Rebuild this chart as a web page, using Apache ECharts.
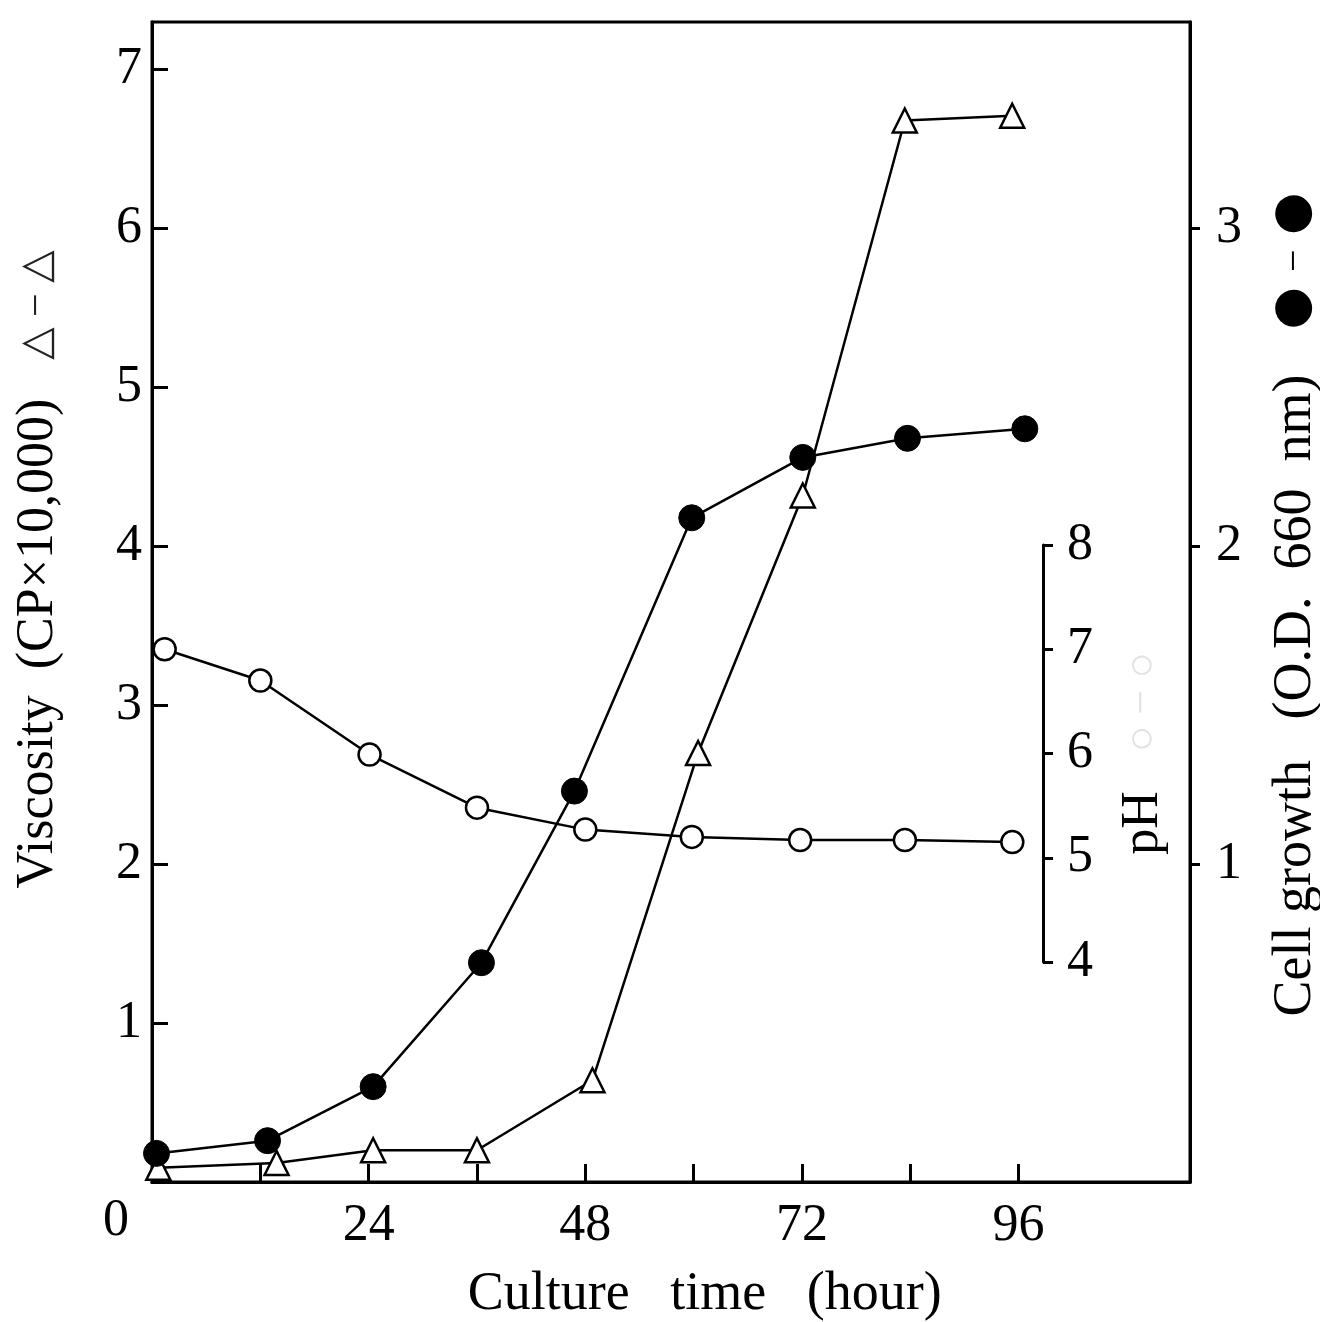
<!DOCTYPE html>
<html>
<head>
<meta charset="utf-8">
<script src="https://cdn.jsdelivr.net/npm/echarts@6/dist/echarts.min.js"></script>
<style>
  html, body { margin: 0; padding: 0; background: #fff; }
  #chart { width: 1320px; height: 1322px; }
</style>
</head>
<body>
<div id="chart"></div>
<script>
// values
var xTicks = [12, 24, 36, 48, 60, 72, 84, 96];
var xLabels = [24, 48, 72, 96];
var viscTicks = [1, 2, 3, 4, 5, 6, 7];
var cellTicks = [1, 2, 3];
var phTicks = [4, 5, 6, 7, 8];

var viscTime = [0.7, 13.8, 24.5, 36, 48.8, 60.5, 72.1, 83.4, 95.3];
var viscosity = [0.09, 0.12, 0.20, 0.20, 0.64, 2.70, 4.32, 6.68, 6.71];

var cellTime = [0.5, 12.8, 24.5, 36.5, 46.8, 59.8, 72.1, 83.7, 96.7];
var cellGrowth = [0.09, 0.13, 0.30, 0.69, 1.23, 2.09, 2.28, 2.34, 2.37];

var phTime = [1.4, 12, 24.1, 36, 48, 59.8, 71.8, 83.4, 95.3];
var phValues = [7.00, 6.70, 5.99, 5.48, 5.27, 5.20, 5.17, 5.17, 5.15];

var font = "'Liberation Serif', 'DejaVu Serif', serif";
var pair = function(xs, ys){
	return xs.map(function(x, i){ return [x, ys[i]]; });
};

var chart = echarts.init(document.getElementById('chart'));

var axisLine = { show: true, onZero: false, lineStyle: { color: '#000', width: 3 } };
var tickStyle = { color: '#000', width: 3 };
var labelStyle = { color: '#000', fontFamily: font, fontSize: 52 };

chart.setOption({
	animation: false,
	backgroundColor: '#fff',
	grid: [
		{ left: 152, right: 130, top: 22, bottom: 140, outerBoundsMode: 'none', containLabel: false,
			show: true, borderColor: '#000', borderWidth: 3 },
		{ left: 152, right: 277, top: 545, bottom: 360, outerBoundsMode: 'none', containLabel: false }
	],
	xAxis: [{
		type: 'value', gridIndex: 0, min: 0, max: 115,
		axisLine: axisLine,
		splitLine: { show: false },
		axisTick: { inside: true, length: 18, lineStyle: tickStyle, customValues: xTicks },
		axisLabel: Object.assign({ margin: 18, customValues: xLabels }, labelStyle),
		// leading blanks push the title right, as in the figure
		name: '     Culture   time   (hour)',
		nameLocation: 'middle',
		nameGap: 86,
		nameTextStyle: { color: '#000', fontFamily: font, fontSize: 54 }
	}, {
		type: 'value', gridIndex: 1, min: 0, max: 98.7, show: false
	}],
	yAxis: [{
		type: 'value', gridIndex: 0, min: 0, max: 7.3, position: 'left',
		axisLine: axisLine,
		splitLine: { show: false },
		axisTick: { inside: true, length: 16, lineStyle: tickStyle, customValues: viscTicks },
		axisLabel: Object.assign({ margin: 10, customValues: viscTicks }, labelStyle),
		name: '{t|     Viscosity  (CP×10,000)   }{s|△ − △}',
		nameLocation: 'middle',
		nameRotate: 90,
		nameGap: 88,
		nameTextStyle: {
			color: '#000', fontFamily: font, fontSize: 52,
			rich: {
				t: { color: '#000', fontFamily: font, fontSize: 52 },
				s: { color: '#222', fontFamily: font, fontSize: 42 }
			}
		}
	}, {
		type: 'value', gridIndex: 0, min: 0, max: 3.65, position: 'right',
		axisLine: axisLine,
		splitLine: { show: false },
		axisTick: { inside: false, length: 10, lineStyle: tickStyle, customValues: cellTicks },
		axisLabel: Object.assign({ margin: 26, customValues: cellTicks }, labelStyle),
		name: '{t|Cell growth   (O.D.  660  nm)   }{s|●}{d| − }{s|●}',
		nameLocation: 'middle',
		nameRotate: 90,
		nameGap: 63,
		nameTextStyle: {
			color: '#000', fontFamily: font, fontSize: 54, lineHeight: 60,
			rich: {
				t: { color: '#000', fontFamily: font, fontSize: 54, lineHeight: 60 },
				s: { color: '#000', fontFamily: font, fontSize: 86, lineHeight: 60, verticalAlign: 'middle' },
				d: { color: '#000', fontFamily: font, fontSize: 40, lineHeight: 60, verticalAlign: 'middle' }
			}
		}
	}, {
		type: 'value', gridIndex: 1, min: 4, max: 8, position: 'right',
		axisLine: axisLine,
		splitLine: { show: false },
		axisTick: { inside: false, length: 10, lineStyle: tickStyle, customValues: phTicks },
		axisLabel: Object.assign({ margin: 24, customValues: phTicks }, labelStyle),
		name: '{a|pH}   {b|○ − ○}',
		nameLocation: 'middle',
		nameRotate: 90,
		nameGap: 74,
		nameTextStyle: {
			color: '#000', fontFamily: font, fontSize: 52,
			rich: {
				a: { color: '#000', fontFamily: font, fontSize: 52 },
				b: { color: '#e2e2e2', fontFamily: font, fontSize: 44 }
			}
		}
	}],
	graphic: [{
		type: 'text', left: 103, top: 1195,
		style: { text: '0', fill: '#000', font: '52px ' + font }
	}],
	series: [{
		name: 'pH', type: 'line', xAxisIndex: 1, yAxisIndex: 2,
		data: pair(phTime, phValues),
		symbol: 'circle', symbolSize: 22,
		lineStyle: { color: '#000', width: 2.5 },
		itemStyle: { color: '#fff', borderColor: '#000', borderWidth: 2.5 },
		z: 3
	}, {
		name: 'Viscosity', type: 'line', xAxisIndex: 0, yAxisIndex: 0,
		data: pair(viscTime, viscosity),
		symbol: 'triangle', symbolSize: 24,
		lineStyle: { color: '#000', width: 2.5 },
		itemStyle: { color: '#fff', borderColor: '#000', borderWidth: 2.5 },
		z: 4
	}, {
		name: 'Cell growth', type: 'line', xAxisIndex: 0, yAxisIndex: 1,
		data: pair(cellTime, cellGrowth),
		symbol: 'circle', symbolSize: 26,
		lineStyle: { color: '#000', width: 2.5 },
		itemStyle: { color: '#000', borderColor: '#000', borderWidth: 1 },
		z: 5
	}]
});
</script>
</body>
</html>
